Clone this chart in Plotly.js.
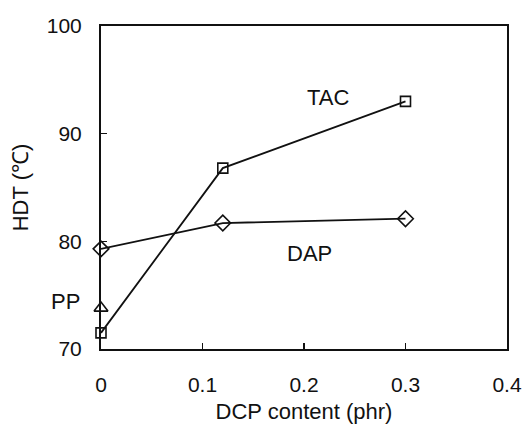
<!DOCTYPE html>
<html>
<head>
<meta charset="utf-8">
<script src="https://cdn.plot.ly/plotly-3.0.1.min.js"></script>
<style>html,body{margin:0;padding:0;background:#fff;}#chart{width:525px;height:429px;}</style>
</head>
<body>
<div id="chart"></div>
<script>
const dcpContent = [0, 0.12, 0.3];
const tacHDT = [71.5, 86.8, 93.0];
const dapHDT = [79.3, 81.7, 82.1];
const ppX = [0];
const ppHDT = [73.8];
const xTicks = [0, 0.1, 0.2, 0.3, 0.4];
const xTickLabels = ['0', '0.1', '0.2', '0.3', '0.4'];
const yTicks = [70, 80, 90, 100];
const yTickLabels = ['70', '80', '90', '100'];

const lineColor = '#111';
const fontFam = 'Liberation Sans, Arial, sans-serif';

const traces = [
  {x: dcpContent, y: tacHDT, mode: 'lines+markers', name: 'TAC', cliponaxis: false,
   line: {color: lineColor, width: 1.8},
   marker: {symbol: 'square-open', size: 10, color: lineColor, line: {width: 1.6, color: lineColor}}},
  {x: dcpContent, y: dapHDT, mode: 'lines+markers', name: 'DAP', cliponaxis: false,
   line: {color: lineColor, width: 1.8},
   marker: {symbol: 'diamond-open', size: 12, color: lineColor, line: {width: 1.6, color: lineColor}}},
  {x: ppX, y: ppHDT, mode: 'markers', name: 'PP', cliponaxis: false,
   marker: {symbol: 'triangle-up-open', size: 12, color: lineColor, line: {width: 1.6, color: lineColor}}}
];

const layout = {
  width: 525, height: 429,
  margin: {l: 101, r: 18, t: 26, b: 80},
  paper_bgcolor: '#fff', plot_bgcolor: '#fff',
  showlegend: false,
  font: {family: fontFam, color: '#111', size: 21},
  xaxis: {
    range: [0, 0.4], tickvals: xTicks, ticktext: xTickLabels,
    ticks: 'inside', ticklen: 6, tickwidth: 1.6, tickcolor: lineColor,
    showline: true, linecolor: lineColor, linewidth: 2, mirror: true,
    showgrid: false, zeroline: false,
    tickfont: {size: 21, family: fontFam, color: '#111'},
    ticklabelstandoff: 16,
    title: {text: 'DCP content (phr)', font: {size: 22, family: fontFam, color: '#111'}, standoff: 8}
  },
  yaxis: {
    range: [70, 100], tickvals: yTicks, ticktext: yTickLabels,
    ticks: 'inside', ticklen: 6, tickwidth: 1.6, tickcolor: lineColor,
    showline: true, linecolor: lineColor, linewidth: 2, mirror: true,
    showgrid: false, zeroline: false,
    tickfont: {size: 21, family: fontFam, color: '#111'},
    ticklabelstandoff: 13,
    title: {text: 'HDT (℃)', font: {size: 22, family: fontFam, color: '#111'}, standoff: 12}
  },
  annotations: [
    {x: 0.2236, y: 93.35, xref: 'x', yref: 'y', text: 'TAC', showarrow: false, font: {size: 22, family: fontFam, color: '#111'}},
    {x: 0.205, y: 78.87, xref: 'x', yref: 'y', text: 'DAP', showarrow: false, font: {size: 22, family: fontFam, color: '#111'}},
    {x: -0.047, y: 74.4, xref: 'paper', yref: 'y', xanchor: 'right', text: 'PP', showarrow: false, font: {size: 22, family: fontFam, color: '#111'}}
  ]
};

Plotly.newPlot('chart', traces, layout, {staticPlot: true, displayModeBar: false});
</script>
</body>
</html>
